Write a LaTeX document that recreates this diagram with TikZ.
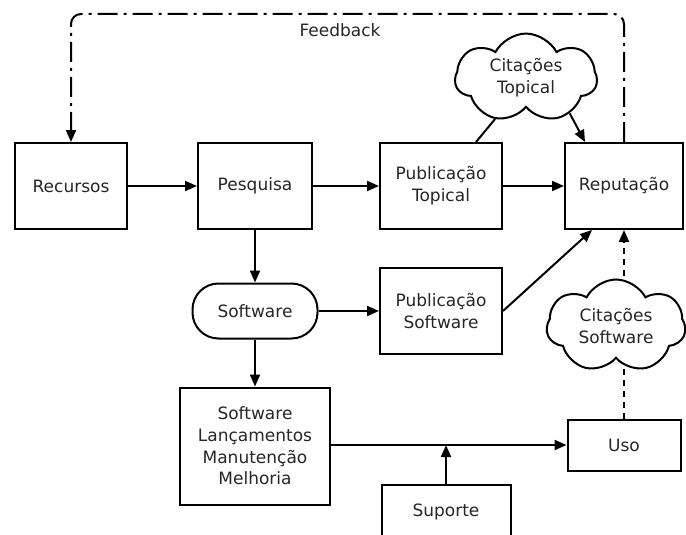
\documentclass[tikz,border=0pt]{standalone}
\usepackage{fontspec}
\setmainfont{DejaVu Sans}
\usetikzlibrary{arrows.meta,shapes.symbols,shapes.misc,calc}
\begin{document}
\begin{tikzpicture}[x=1pt,y=-1pt,
  every node/.style={font=\fontsize{17}{21.7}\selectfont, align=center, text=black!85},
  box/.style={draw, line width=2pt, rectangle, inner sep=0pt},
  cloudbox/.style={draw, line width=2pt, cloud, cloud puffs=7, cloud puff arc=125, aspect=1.5, fill=white, inner sep=0pt},
  conn/.style={line width=2pt, -{Triangle[length=12pt,width=10pt]}},
  plain/.style={line width=2pt},
  fb/.style={line width=2pt, dash pattern=on 20pt off 6pt on 3pt off 6pt, rounded corners=10pt, -{Triangle[length=12pt,width=10pt]}},
  dotted line/.style={line width=2pt, dash pattern=on 6pt off 5pt, -{Triangle[length=12pt,width=10pt]}}
]
\useasboundingbox (0,0) rectangle (686,535);

\node[box, minimum width=112pt, minimum height=86pt] (rec) at (71,186) {Recursos};
\node[box, minimum width=114pt, minimum height=86pt] (pes) at (255,186) {Pesquisa};
\node[box, minimum width=122pt, minimum height=86pt] (pubt) at (441,186) {Publicação\\Topical};
\node[box, minimum width=118pt, minimum height=86pt] (rep) at (624,186) {Reputação};
\node[draw, line width=2pt, rounded corners=26pt, minimum width=125pt, minimum height=55pt] (sw) at (255,311) {Software};
\node[box, minimum width=122pt, minimum height=86pt] (pubs) at (441,311) {Publicação\\Software};
\node[box, minimum width=150pt, minimum height=117pt] (lanc) at (255,446) {Software\\Lançamentos\\Manutenção\\Melhoria};
\node[box, minimum width=113pt, minimum height=51pt] (uso) at (624,445) {Uso};
\node[box, minimum width=129pt, minimum height=60pt] (sup) at (446,515) {};
\node at (446,512) {Suporte};
\coordinate (fbtop) at (0,14);
\coordinate (jn) at (446,445);

\draw[fb] (rep.north) -- (rep.north |- fbtop) -- (rec.north |- fbtop) -- (rec.north);
\node (fbl) at (340,30) {Feedback};

\draw[conn] (rec) -- (pes);
\draw[conn] (pes) -- (pubt);
\draw[conn] (pubt) -- (rep);
\draw[conn] (pes) -- (sw);
\draw[conn] (sw.east) -- (sw.east -| pubs.west);
\draw[conn] (sw) -- (lanc);
\draw[conn] (pubs.east) -- ([xshift=28pt]rep.south west);
\draw[conn] (lanc.east |- uso) -- (uso);
\draw[conn] (sup.north |- jn) ++(0,40) -- (jn);
\draw[dotted line] (uso) -- (rep);

\node[cloudbox, minimum width=142pt, minimum height=87pt] (ct) at (526,78) {Citações\\Topical};
\node[cloudbox, minimum width=139pt, minimum height=93pt] (cs) at (616,326) {Citações\\Software};

\draw[plain] (ct.233) -- ([xshift=35pt]pubt.north);
\draw[conn] (ct.-39) -- ([xshift=-39pt]rep.north);
\end{tikzpicture}
\end{document}
